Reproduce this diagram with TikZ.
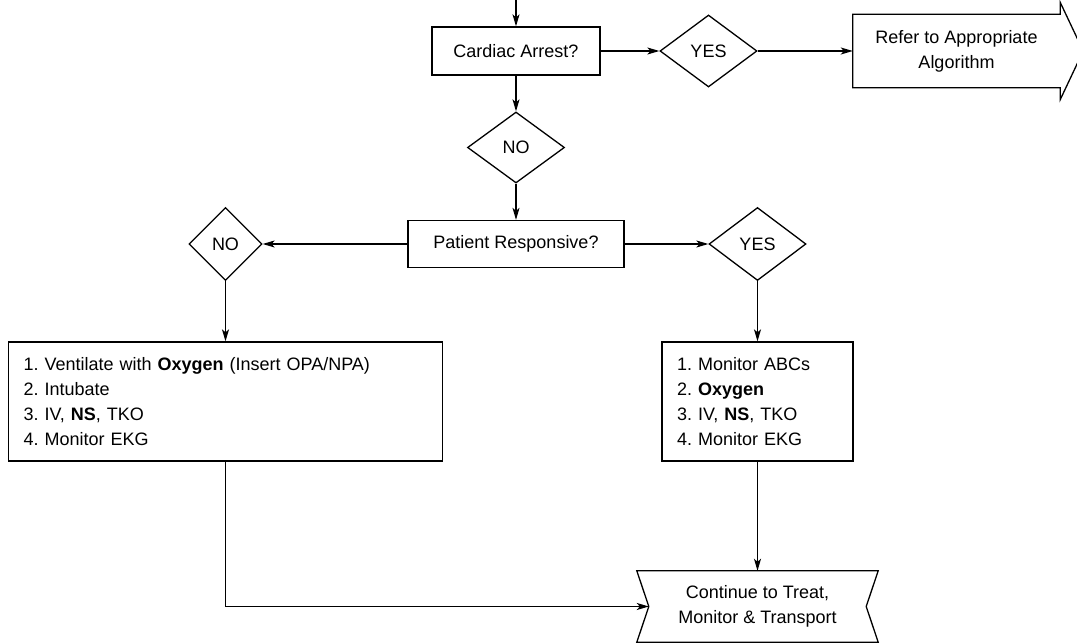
\documentclass[tikz,border=0pt]{standalone}
\usepackage{fontspec}
\setmainfont{Liberation Sans}
\usetikzlibrary{arrows.meta,shapes.geometric,calc}
\frenchspacing

\begin{document}
\begin{tikzpicture}[x=1pt,y=-1pt]
\tikzset{
  every node/.style={font=\fontsize{18}{25}\selectfont},
  procbox/.style={rectangle,draw,line width=1.3pt,minimum height=48pt,inner sep=0pt,align=center},
  listbox/.style={rectangle,draw,line width=1.3pt,minimum height=119pt,inner xsep=15pt,inner ysep=0pt,align=left},
  decision/.style={diamond,draw,line width=1.3pt,inner sep=0pt,minimum width=97pt,minimum height=72pt},
  plainbox/.style={rectangle,inner sep=0pt,align=center},
  directed/.style={-{Stealth[length=12pt,width=7pt,inset=3pt]},line width=1.3pt},
  undirected/.style={line width=1.3pt,line join=miter}
}
\useasboundingbox (0,0) rectangle (1077,644);
\coordinate (n_top) at (516,0);
\node[procbox,minimum width=168pt] (n_cardiac) at (516,51) {Cardiac Arrest?};
\node[decision] (n_yes1) at (708.5,51) {YES};
\node[plainbox,minimum width=207pt,minimum height=73pt] (n_refer) at (956.5,51) {Refer to Appropriate\\Algorithm};
\node[decision,minimum height=71pt] (n_no1) at (516,147.5) {NO};
\node[procbox,minimum width=216pt,minimum height=47pt] (n_patient) at (516,244) {Patient Responsive?};
\node[decision,minimum width=73pt,minimum height=73pt] (n_no2) at (225.5,244) {NO};
\node[decision,minimum height=73pt] (n_yes2) at (757.5,244) {YES};
\node[listbox,text width=404pt] (n_unresp) at (225.5,401.5)
  {1. Ventilate with \textbf{Oxygen} (Insert OPA/NPA)\\2. Intubate\\3. IV, \textbf{NS}, TKO\\4. Monitor EKG};
\node[listbox,text width=161pt] (n_resp) at (757.5,401.5)
  {1. Monitor ABCs\\2. \textbf{Oxygen}\\3. IV, \textbf{NS}, TKO\\4. Monitor EKG};
\node[plainbox,minimum width=241pt,minimum height=71pt] (n_cont) at (757.5,606.5) {Continue to Treat,\\Monitor \& Transport};
\coordinate (n_notch) at ($(n_cont.west)+(12,0)$);
\draw[undirected] (n_refer.north west) -- (n_refer.north east) -- ++(0,-12) -- ($(n_refer.east)+(23,0)$)
  -- ($(n_refer.south east)+(0,12)$) -- (n_refer.south east) -- (n_refer.south west) -- cycle;
\draw[undirected] (n_cont.north west) -- (n_cont.north east) -- ($(n_cont.east)+(-12,0)$)
  -- (n_cont.south east) -- (n_cont.south west) -- (n_notch) -- cycle;
\draw[directed] (n_top) -- (n_cardiac);
\draw[directed] (n_cardiac) -- (n_yes1);
\draw[directed] (n_yes1) -- (n_refer);
\draw[directed] (n_cardiac) -- (n_no1);
\draw[directed] (n_no1) -- (n_patient);
\draw[directed] (n_patient) -- (n_no2);
\draw[directed] (n_patient) -- (n_yes2);
\draw[directed] (n_no2) -- (n_unresp);
\draw[directed] (n_yes2) -- (n_resp);
\draw[directed] (n_resp) -- (n_cont);
\draw[directed] (n_unresp.south) |- (n_notch);
\end{tikzpicture}
\end{document}
